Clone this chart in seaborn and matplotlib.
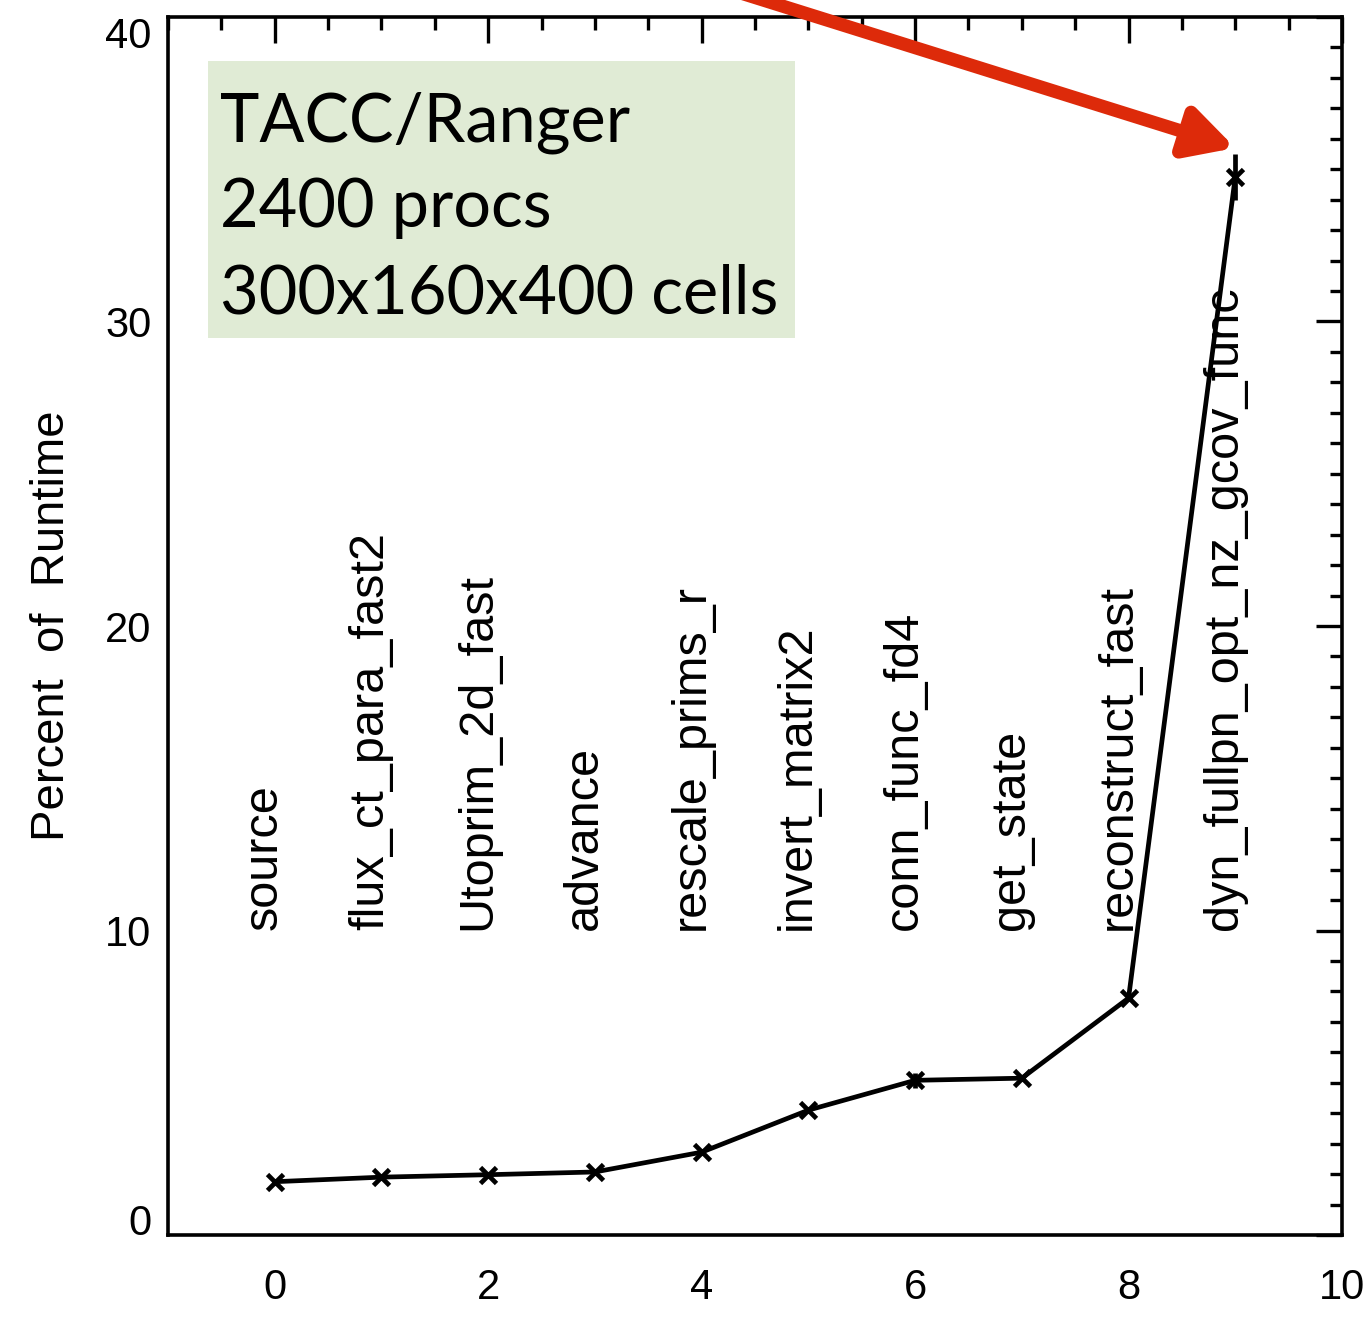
import matplotlib
matplotlib.use("Agg")
import matplotlib.pyplot as plt
import seaborn as sns
import numpy as np
import pandas as pd
from matplotlib.ticker import MultipleLocator
from matplotlib.patches import Rectangle

# ---- data ----
rank = [0, 1, 2, 3, 4, 5, 6, 7, 8, 9]
percent = [1.75, 1.9, 1.98, 2.07, 2.72, 4.1, 5.08, 5.15, 7.78, 34.75]
percent_err = [0.05, 0.1, 0.1, 0.05, 0.05, 0.05, 0.25, 0.05, 0.1, 0.75]
routines = ["source", "flux_ct_para_fast2", "Utoprim_2d_fast", "advance",
            "rescale_prims_r", "invert_matrix2", "conn_func_fd4", "get_state",
            "reconstruct_fast", "dyn_fullpn_opt_nz_gcov_func"]
xticks = [0, 2, 4, 6, 8, 10]
yticks = [0, 10, 20, 30, 40]
box_lines = ["TACC/Ranger", "2400 procs", "300x160x400 cells"]

sns.set_style("white")
plt.rcParams['font.family'] = ['Liberation Sans', 'DejaVu Sans']

W, H = 1367, 1321
fig = plt.figure(figsize=(W / 100, H / 100), dpi=100)
ax = fig.add_axes([168 / W, (H - 1235) / H, (1342 - 168) / W, (1235 - 17) / H])

df = pd.DataFrame({"rank": rank, "percent": percent})
sns.lineplot(data=df, x="rank", y="percent", ax=ax, color="black", lw=3.4,
             marker="x", markersize=12, markeredgewidth=3.4,
             markeredgecolor="black", estimator=None, sort=False)
ax.errorbar(rank, percent, yerr=percent_err, fmt="none", ecolor="black",
            elinewidth=3.4, capsize=0, zorder=3)

ax.set_xlim(-1, 10)
ax.set_ylim(0, 40)
ax.set_xticks(xticks)
ax.set_yticks(yticks)
ax.xaxis.set_minor_locator(MultipleLocator(0.5))
ax.yaxis.set_minor_locator(MultipleLocator(1))
ax.tick_params(which="both", direction="in", top=True, right=True,
               width=2.4, colors="black", labelsize=30)
ax.tick_params(which="major", length=19)
ax.tick_params(which="minor", length=9)
ax.tick_params(axis="x", pad=24)
ax.tick_params(axis="y", pad=12)
for s in ax.spines.values():
    s.set_linewidth(2.6)
    s.set_color("black")
    s.set_visible(True)

fig.canvas.draw()
ylabels = ax.get_yticklabels()
ylabels[0].set_va("baseline")
ylabels[-1].set_va("top")

ax.set_xlabel("")
ax.set_ylabel("Percent  of  Runtime", fontsize=34, labelpad=22, color="black")

for x, name in zip(rank, routines):
    ax.text(x - 0.1, 10, name, rotation=90, ha="center", va="bottom",
            fontsize=35, color="black")

# annotation box
fig.patches.append(Rectangle((208 / W, 1 - 338 / H), (795 - 208) / W,
                             (338 - 61) / H, transform=fig.transFigure,
                             facecolor="#e0ebd5", edgecolor="none", zorder=5))
for i, line in enumerate(box_lines):
    fig.text(220 / W, 1 - (141 + 86 * i) / H, line, fontsize=48,
             family=["Lato", "DejaVu Sans"], color="black",
             ha="left", va="baseline", zorder=6)

# red arrow
ax.annotate("", xy=(9.0, 35.7), xytext=(3.9, 41.3),
            arrowprops=dict(arrowstyle="-|>,head_length=2.8,head_width=1.5",
                            color="#dd2a0a", lw=9.5, shrinkA=0, shrinkB=0),
            annotation_clip=False, zorder=10)

fig.savefig("out.png", dpi=100)
